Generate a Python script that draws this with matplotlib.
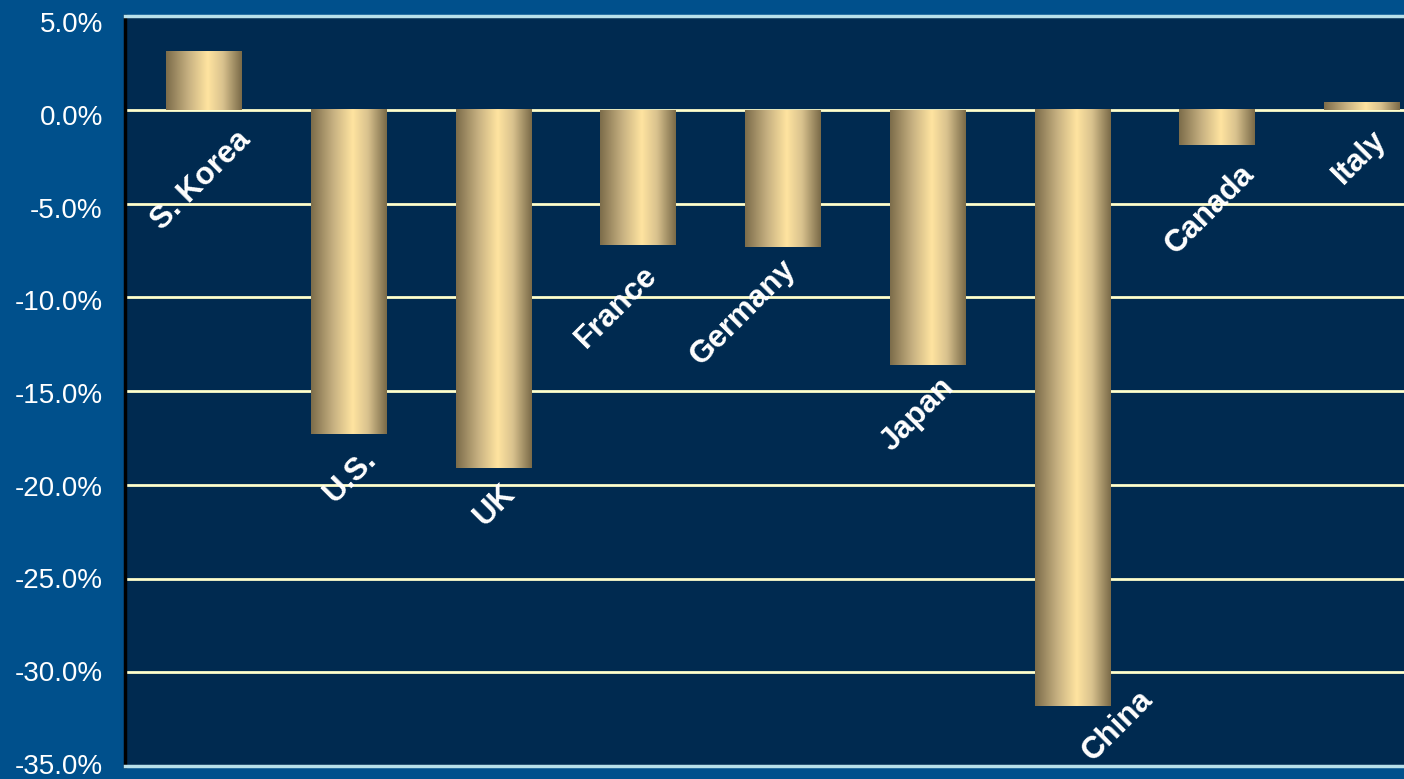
import matplotlib
matplotlib.use("Agg")
import matplotlib.pyplot as plt
import numpy as np
from matplotlib.colors import LinearSegmentedColormap
from matplotlib.transforms import ScaledTranslation

countries = ["S. Korea", "U.S.", "UK", "France", "Germany", "Japan", "China", "Canada", "Italy"]
values = [3.1, -17.3, -19.1, -7.2, -7.3, -13.6, -31.8, -1.9, 0.4]
yticks = [5, 0, -5, -10, -15, -20, -25, -30, -35]

# label placement offsets in pixels (style only)
label_dx = [-3, 1, 1, -22, -40, -10, 45, -7, -3]
label_dy = [-71, -43, -38, -62, -66, -50, -20, -64, -48]

FIG_BG = "#00508c"
AX_BG = "#002a50"
GRID = "#ffffcc"
FRAME = "#b8e0ea"

plt.rcParams['font.family'] = ['Liberation Sans', 'DejaVu Sans']

fig = plt.figure(figsize=(14.04, 7.79), dpi=100, facecolor=FIG_BG)
ax = fig.add_axes([125/1404, 1 - 766/779, 1 - 125/1404, (766 - 16)/779])
ax.set_facecolor(AX_BG)

unit = 144.75
x_left = -(204 - 125) / unit
x_right = (1404 - 204) / unit
ax.set_xlim(x_left, x_right)
ax.set_ylim(-35, 5)

ax.set_yticks(yticks)
ax.set_yticklabels([f"{t:.1f}%" for t in yticks])
ax.tick_params(axis='y', length=0, pad=16, labelsize=20, labelcolor='white')
ax.set_xticks([])
ax.yaxis.grid(True, color=GRID, linewidth=2)
ax.set_axisbelow(True)

for t, lab in zip(yticks, ax.get_yticklabels()):
    shift = 6 - 8 * (5 - t) / 40
    lab.set_transform(lab.get_transform() + ScaledTranslation(0, -shift/100, fig.dpi_scale_trans))

cmap = LinearSegmentedColormap.from_list(
    "gold", [(0.0, "#7c6c4a"), (0.3, "#c8b282"), (0.55, "#ffe4a0"), (0.75, "#d9c28e"), (1.0, "#7a6a48")])
grad = np.linspace(0, 1, 256).reshape(1, -1)

width = 76 / unit
for i, v in enumerate(values):
    bot, top = min(0, v), max(0, v)
    ax.imshow(grad, cmap=cmap, aspect='auto', extent=(i - width/2, i + width/2, bot, top),
              zorder=3, interpolation='bicubic')
    ax.annotate(countries[i], xy=(i, min(0, v)), xytext=(label_dx[i], label_dy[i]),
                textcoords='offset pixels', ha='center', va='center', rotation=45,
                color='white', fontsize=22.5, fontweight='bold', zorder=5)

ax.set_xlim(x_left, x_right)
ax.set_ylim(-35, 5)

for s in ['top', 'bottom']:
    ax.spines[s].set_color(FRAME)
    ax.spines[s].set_linewidth(2.5)
ax.spines['left'].set_color('black')
ax.spines['left'].set_linewidth(2.5)
ax.spines['right'].set_visible(False)

fig.savefig("out.png", dpi=100, facecolor=FIG_BG)
